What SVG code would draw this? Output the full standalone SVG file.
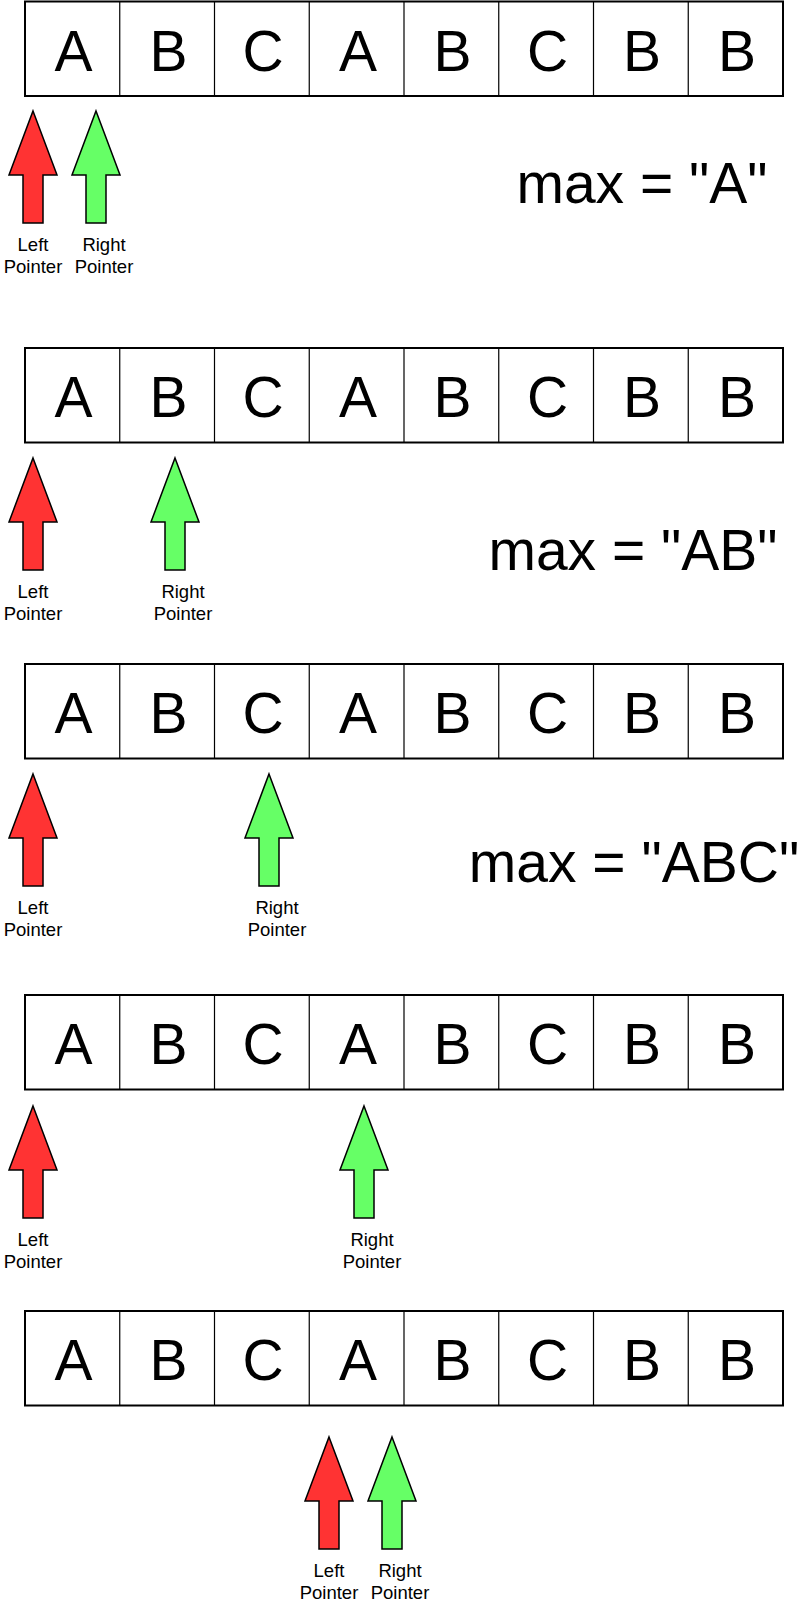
<svg xmlns="http://www.w3.org/2000/svg" width="812" height="1600" viewBox="0 0 812 1600">
<defs>
<style>
.frame{fill:#fff;stroke:#000;stroke-width:2}
.sep{stroke:#000;stroke-width:1.2}
.cell{font-family:"Liberation Sans",Arial,sans-serif;font-size:57px;text-anchor:middle;fill:#000}
.lbl{font-family:"Liberation Sans",Arial,sans-serif;font-size:18.5px;text-anchor:middle;fill:#000}
.max{font-family:"Liberation Sans",Arial,sans-serif;font-size:57px;text-anchor:middle;fill:#000}
.red{fill:#FF3333;stroke:#000;stroke-width:1.5;stroke-linejoin:miter}
.green{fill:#66FF66;stroke:#000;stroke-width:1.5;stroke-linejoin:miter}
</style>
<g id="cells">
<rect class="frame" x="25" y="0" width="758" height="94.5"/>
<path class="sep" d="M119.75 0V94.5M214.5 0V94.5M309.25 0V94.5M404 0V94.5M498.75 0V94.5M593.5 0V94.5M688.25 0V94.5"/>
<text class="cell" x="73.5" y="69">A</text>
<text class="cell" x="168.5" y="69">B</text>
<text class="cell" x="263" y="69">C</text>
<text class="cell" x="358" y="69">A</text>
<text class="cell" x="452.5" y="69">B</text>
<text class="cell" x="547.5" y="69">C</text>
<text class="cell" x="642" y="69">B</text>
<text class="cell" x="737" y="69">B</text>
</g>
<polygon id="arrowShape" points="0,0 24,64 10,64 10,112 -10,112 -10,64 -24,64"/>
</defs>

<g id="row1">
<use href="#cells" x="0" y="1.5"/>
<g id="row1-left"><use href="#arrowShape" class="red" x="33" y="111"/><text class="lbl" x="33" y="251">Left</text><text class="lbl" x="33" y="273">Pointer</text></g>
<g id="row1-right"><use href="#arrowShape" class="green" x="96" y="111"/><text class="lbl" x="104" y="251">Right</text><text class="lbl" x="104" y="273">Pointer</text></g>
<text id="row1-max" class="max" x="642" y="203">max = "A"</text>
</g>

<g id="row2">
<use href="#cells" x="0" y="348"/>
<g id="row2-left"><use href="#arrowShape" class="red" x="33" y="458"/><text class="lbl" x="33" y="598">Left</text><text class="lbl" x="33" y="620">Pointer</text></g>
<g id="row2-right"><use href="#arrowShape" class="green" x="175" y="458"/><text class="lbl" x="183" y="598">Right</text><text class="lbl" x="183" y="620">Pointer</text></g>
<text id="row2-max" class="max" x="633" y="570">max = "AB"</text>
</g>

<g id="row3">
<use href="#cells" x="0" y="664"/>
<g id="row3-left"><use href="#arrowShape" class="red" x="33" y="774"/><text class="lbl" x="33" y="914">Left</text><text class="lbl" x="33" y="936">Pointer</text></g>
<g id="row3-right"><use href="#arrowShape" class="green" x="269" y="774"/><text class="lbl" x="277" y="914">Right</text><text class="lbl" x="277" y="936">Pointer</text></g>
<text id="row3-max" class="max" x="634" y="882">max = "ABC"</text>
</g>

<g id="row4">
<use href="#cells" x="0" y="995"/>
<g id="row4-left"><use href="#arrowShape" class="red" x="33" y="1106"/><text class="lbl" x="33" y="1246">Left</text><text class="lbl" x="33" y="1268">Pointer</text></g>
<g id="row4-right"><use href="#arrowShape" class="green" x="364" y="1106"/><text class="lbl" x="372" y="1246">Right</text><text class="lbl" x="372" y="1268">Pointer</text></g>
</g>

<g id="row5">
<use href="#cells" x="0" y="1311"/>
<g id="row5-left"><use href="#arrowShape" class="red" x="329" y="1437"/><text class="lbl" x="329" y="1577">Left</text><text class="lbl" x="329" y="1599">Pointer</text></g>
<g id="row5-right"><use href="#arrowShape" class="green" x="392" y="1437"/><text class="lbl" x="400" y="1577">Right</text><text class="lbl" x="400" y="1599">Pointer</text></g>
</g>
</svg>
